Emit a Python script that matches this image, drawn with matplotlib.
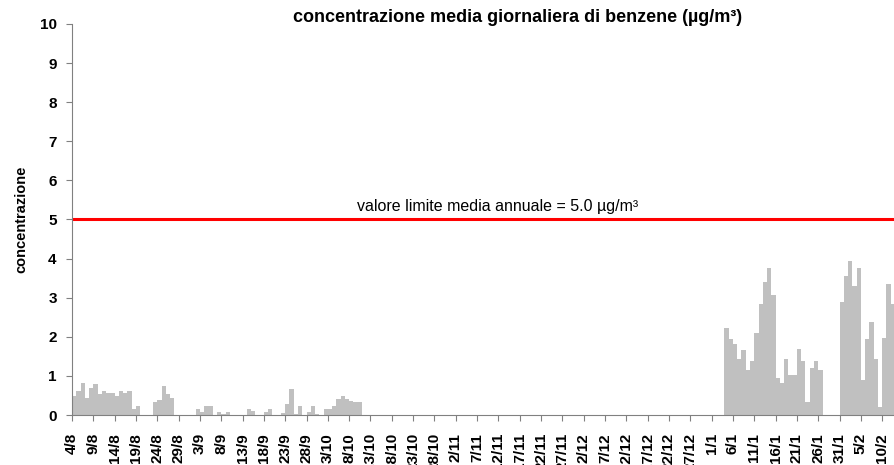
import matplotlib
matplotlib.use("Agg")
import matplotlib.pyplot as plt
import numpy as np
import pandas as pd

plt.rcParams['font.family'] = ['Liberation Sans', 'DejaVu Sans']

# giorni con dato (giorno/mese) e concentrazione media giornaliera (ug/m3)
ago_giorni = ['4/8', '5/8', '6/8', '7/8', '8/8', '9/8', '10/8', '11/8', '12/8', '13/8',
              '14/8', '15/8', '16/8', '17/8', '18/8', '19/8', '23/8', '24/8', '25/8',
              '26/8', '27/8']
ago_valori = [0.49, 0.62, 0.82, 0.44, 0.69, 0.79, 0.53, 0.62, 0.57, 0.57,
              0.49, 0.62, 0.57, 0.62, 0.15, 0.24, 0.32, 0.39, 0.74,
              0.53, 0.44]

set_giorni = ['2/9', '3/9', '4/9', '5/9', '7/9', '8/9', '9/9', '14/9', '15/9', '18/9',
              '19/9', '22/9', '23/9', '24/9', '25/9', '26/9', '28/9', '29/9', '30/9']
set_valori = [0.15, 0.07, 0.24, 0.24, 0.07, 0.03, 0.07, 0.15, 0.11, 0.07,
              0.15, 0.04, 0.28, 0.66, 0.02, 0.24, 0.07, 0.24, 0.03]

ott_giorni = ['2/10', '3/10', '4/10', '5/10', '6/10', '7/10', '8/10', '9/10', '10/10']
ott_valori = [0.15, 0.15, 0.24, 0.40, 0.49, 0.40, 0.37, 0.32, 0.32]

gen_giorni = ['4/1', '5/1', '6/1', '7/1', '8/1', '9/1', '10/1', '11/1', '12/1', '13/1',
              '14/1', '15/1', '16/1', '17/1', '18/1', '19/1', '20/1', '21/1', '22/1',
              '23/1', '24/1', '25/1', '26/1', '31/1']
gen_valori = [2.22, 1.94, 1.81, 1.44, 1.65, 1.15, 1.39, 2.09, 2.85, 3.39,
              3.76, 3.06, 0.94, 0.83, 1.44, 1.03, 1.03, 1.69, 1.39,
              0.33, 1.20, 1.39, 1.15, 2.90]

feb_giorni = ['1/2', '2/2', '3/2', '4/2', '5/2', '6/2', '7/2', '8/2', '9/2', '10/2',
              '11/2', '12/2']
feb_valori = [3.56, 3.93, 3.31, 3.76, 0.90, 1.94, 2.39, 1.44, 0.21, 1.98,
              3.35, 2.85]

limite = 5.0

# asse dei giorni dal 4/8 al 12/2
date = pd.date_range('2021-08-04', '2022-02-12', freq='D')
etichette = [f'{d.day}/{d.month}' for d in date]
serie = pd.Series(np.nan, index=etichette)
for g, v in [(ago_giorni, ago_valori), (set_giorni, set_valori), (ott_giorni, ott_valori),
             (gen_giorni, gen_valori), (feb_giorni, feb_valori)]:
    serie.loc[g] = v

fig = plt.figure(figsize=(8.95, 4.65), dpi=100)
ax = fig.add_axes([72 / 895, 50 / 465, 823 / 895, 391 / 465])

x = np.arange(len(serie))
ax.bar(x, serie.values, width=1.0, align='edge', color='#c0c0c0', edgecolor='none')

ax.axhline(limite, color='#ff0000', linewidth=2.2)
ax.text(0.517, limite + 0.15, 'valore limite media annuale = 5.0 µg/m³',
        transform=ax.get_yaxis_transform(), ha='center', va='bottom', fontsize=11.5)

ax.set_xlim(0, len(serie))
ax.set_ylim(0, 10)
ax.set_yticks(range(0, 11))
ax.set_yticklabels([str(i) for i in range(0, 11)], fontweight='bold', fontsize=11)

pos = x[::5]
ax.set_xticks(pos)
ax.set_xticklabels([etichette[i] for i in pos], rotation=90, fontweight='bold', fontsize=11)

ax.set_ylabel('concentrazione', fontweight='bold', fontsize=10.5, labelpad=8)

for s in ['top', 'right']:
    ax.spines[s].set_visible(False)
for s in ['left', 'bottom']:
    ax.spines[s].set_color('#808080')
ax.tick_params(axis='both', direction='out', length=4, color='#808080')
ax.tick_params(axis='x', pad=9)
ax.tick_params(axis='y', pad=7)

fig.text(518 / 895, 1 - 17 / 465, 'concentrazione media giornaliera di benzene (µg/m³)',
         ha='center', va='center', fontsize=13, fontweight='bold')

fig.savefig('out.png', dpi=100, facecolor='white')
